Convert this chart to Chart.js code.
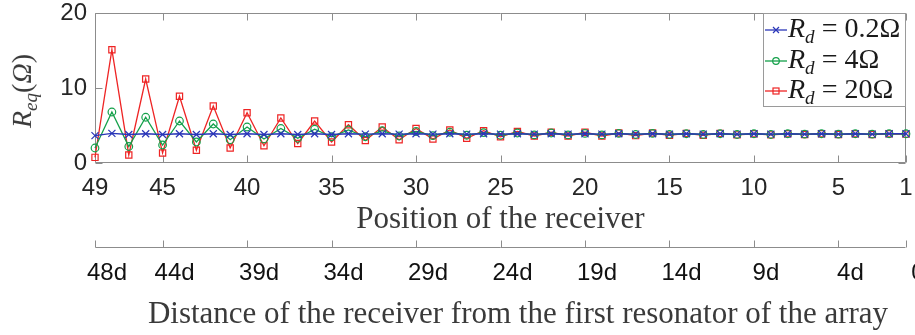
<!DOCTYPE html>
<html><head><meta charset="utf-8">
<script src="https://cdn.jsdelivr.net/npm/chart.js@4.4.1/dist/chart.umd.min.js"></script>
<style>
html,body{margin:0;padding:0;background:#fff;}
#wrap{position:relative;width:915px;height:335px;overflow:hidden;}
#c{position:absolute;left:0;top:0;}
.serif{font-family:"Liberation Serif","Times New Roman",serif;color:#3a3a3a;line-height:1;}
.sub{font-size:0.68em;vertical-align:-0.32em;}
#ytitle{position:absolute;left:24px;top:91px;transform:translate(-50%,-50%) rotate(-90deg);white-space:nowrap;font-size:28px;}
#x2title{position:absolute;left:518px;top:312px;transform:translate(-50%,-50%);white-space:nowrap;font-size:31px;}
#legend{position:absolute;left:763px;top:13px;width:143px;height:94px;border:1px solid #9a9a9a;background:#fff;box-sizing:border-box;}
.row{position:absolute;left:0;height:30px;display:flex;align-items:center;}
.row svg{display:block;margin-left:1px;}
.row .t{font-family:"Liberation Serif","Times New Roman",serif;font-size:28px;color:#1a1a1a;margin-left:1px;white-space:nowrap;line-height:1;}
.eq{margin:0 7px;font-style:normal;}
</style>
</head><body>
<div id="wrap">
<canvas id="c" width="915" height="335"></canvas>
<div id="ytitle" class="serif"><i>R</i><i class="sub">eq</i>(<i>Ω</i>)</div>
<div id="x2title" class="serif">Distance of the receiver from the first resonator of the array</div>
<div id="legend"></div>
</div>
<script>
// ---- data ----
const positions = [49,48,47,46,45,44,43,42,41,40,39,38,37,36,35,34,33,32,31,30,29,28,27,26,25,24,23,22,21,20,19,18,17,16,15,14,13,12,11,10,9,8,7,6,5,4,3,2,1];
const seriesNames = ['0.2Ω','4Ω','20Ω'];
const rd02 = [3.65,3.95,3.8,3.9,3.8,3.9,3.8,3.9,3.8,3.9,3.8,3.9,3.8,3.9,3.8,3.9,3.85,3.9,3.85,3.9,3.85,3.9,3.85,3.9,3.85,3.9,3.85,3.9,3.85,3.9,3.85,3.9,3.85,3.9,3.85,3.9,3.85,3.9,3.85,3.9,3.85,3.9,3.85,3.9,3.85,3.9,3.85,3.9,3.9];
const rd4 = [2.0,6.8,2.2,6.1,2.4,5.6,2.8,5.2,3.1,4.8,3.2,4.6,3.3,4.5,3.5,4.4,3.5,4.3,3.6,4.2,3.65,4.1,3.7,4.05,3.7,4.0,3.75,4.0,3.75,3.95,3.75,3.95,3.8,3.95,3.8,3.9,3.8,3.9,3.8,3.9,3.8,3.9,3.85,3.9,3.85,3.9,3.85,3.9,3.9];
const rd20 = [0.75,15.1,1.07,11.2,1.33,8.9,1.7,7.6,2.0,6.7,2.3,6.0,2.6,5.6,2.8,5.1,3.0,4.8,3.1,4.6,3.2,4.4,3.3,4.3,3.5,4.2,3.6,4.1,3.6,4.1,3.6,4.0,3.65,4.0,3.7,3.95,3.7,3.95,3.75,3.9,3.75,3.9,3.8,3.9,3.8,3.9,3.8,3.9,3.85];
const xTicks = [49,45,40,35,30,25,20,15,10,5,1];
const x2TickLabels = ['48d','44d','39d','34d','29d','24d','19d','14d','9d','4d','0'];
const yTicks = [0,10,20];

const colors = ['#2a36b8','#14a04a','#ee2424'];
const styles = ['crossRot','circle','rect'];
const radii = [5,3.8,4.4];

const toPts = arr => positions.map((p,i)=>({x:p,y:arr[i]}));
const allSeries = [rd02, rd4, rd20];

const boxPlugin = {
  id:'box',
  beforeDatasetsDraw(chart){
    const {ctx, chartArea:a, scales} = chart;
    const x = scales.x, y = scales.y, x2 = scales.x2;
    const L = 7;
    ctx.save();
    ctx.strokeStyle = '#8c8c8c'; ctx.lineWidth = 1;
    ctx.beginPath();
    const l = Math.round(a.left)+0.5, r = Math.round(a.right)-0.5, t = Math.round(a.top)+0.5, b = Math.round(a.bottom)-0.5;
    ctx.rect(l, t, r-l, b-t);
    x.ticks.forEach(tk=>{ const px = Math.round(x.getPixelForValue(tk.value))+0.5;
      ctx.moveTo(px,b); ctx.lineTo(px,b-L); ctx.moveTo(px,t); ctx.lineTo(px,t+L); });
    y.ticks.forEach(tk=>{ const py = Math.round(y.getPixelForValue(tk.value))+0.5;
      ctx.moveTo(l,py); ctx.lineTo(l+L,py); ctx.moveTo(r,py); ctx.lineTo(r-L,py); });
    const y2 = Math.round(x2.top)+0.5;
    ctx.moveTo(l,y2); ctx.lineTo(r,y2);
    x2.ticks.forEach(tk=>{ const px = Math.round(x2.getPixelForValue(tk.value))+0.5;
      ctx.moveTo(px,y2); ctx.lineTo(px,y2-L); });
    ctx.stroke();
    ctx.restore();
  }
};

const tickFont = {family:'"Liberation Sans", Arial, sans-serif', size:24};
const noPad = s => { s.paddingTop = 0; s.paddingBottom = 0; s.paddingLeft = 0; s.paddingRight = 0; };

new Chart(document.getElementById('c'), {
  type:'line',
  data:{ datasets: allSeries.map((arr,i)=>({
    label: 'R_d = '+seriesNames[i],
    data: toPts(arr),
    borderColor: colors[i], backgroundColor:'rgba(0,0,0,0)',
    borderWidth: 1.3, pointStyle: styles[i], pointRadius: radii[i],
    pointBorderColor: colors[i], pointBackgroundColor:'rgba(0,0,0,0)',
    pointBorderWidth: 1.2, tension:0, clip:false
  })) },
  options:{
    responsive:false, animation:false, devicePixelRatio:1,
    layout:{padding:{left:0,right:9,top:13,bottom:0}},
    plugins:{legend:{display:false}, tooltip:{enabled:false}},
    scales:{
      x:{ type:'linear', position:'bottom', reverse:true, min:1, max:49, weight:0,
        afterBuildTicks: s => { s.ticks = xTicks.map(v=>({value:v})); },
        afterFit: s => { s.height = 84; noPad(s); },
        grid:{display:false, drawTicks:false}, border:{display:false},
        ticks:{ autoSkip:false, maxRotation:0, padding:11, color:'#262626', font:tickFont,
          callback: v => String(v) },
        title:{ display:true, text:'Position of the receiver', color:'#3a3a3a',
          font:{family:'"Liberation Serif", "Times New Roman", serif', size:31},
          padding:{top:0,bottom:9} }
      },
      x2:{ type:'linear', position:'bottom', reverse:true, min:1, max:49, weight:1,
        afterBuildTicks: s => { s.ticks = xTicks.map(v=>({value:v})); },
        afterFit: s => { s.height = 88; noPad(s); },
        grid:{display:false, drawTicks:false}, border:{display:false},
        ticks:{ autoSkip:false, maxRotation:0, padding:12, labelOffset:12, color:'#111',
          font:tickFont,
          callback: (v,i) => x2TickLabels[i] }
      },
      y:{ type:'linear', position:'left', min:0, max:20,
        afterBuildTicks: s => { s.ticks = yTicks.map(v=>({value:v})); },
        afterFit: s => { s.width = 95; noPad(s); },
        grid:{display:false, drawTicks:false}, border:{display:false},
        ticks:{ padding:8, color:'#262626', font:tickFont }
      }
    }
  },
  plugins:[boxPlugin]
});

// ---- HTML legend (needs subscripts) ----
const legend = document.getElementById('legend');
const rowTops = [1,32,62];
function markerSvg(i){
  const c = colors[i];
  let m = '';
  if (i===0) m = `<path d="M8 6 L14 12 M14 6 L8 12" stroke="${c}" stroke-width="1.2"/>`;
  if (i===1) m = `<circle cx="11" cy="9" r="3.3" fill="none" stroke="${c}" stroke-width="1.2"/>`;
  if (i===2) m = `<rect x="8" y="6" width="6" height="6" fill="none" stroke="${c}" stroke-width="1.2"/>`;
  return `<svg width="22" height="18" viewBox="0 0 22 18"><line x1="0" y1="9" x2="22" y2="9" stroke="${c}" stroke-width="1.3"/>${m}</svg>`;
}
seriesNames.forEach((n,i)=>{
  const row = document.createElement('div');
  row.className='row'; row.style.top = rowTops[i]+'px';
  row.innerHTML = markerSvg(i) + `<span class="t"><i>R</i><i class="sub">d</i><span class="eq">=</span>${n}</span>`;
  legend.appendChild(row);
});
</script>
</body></html>
